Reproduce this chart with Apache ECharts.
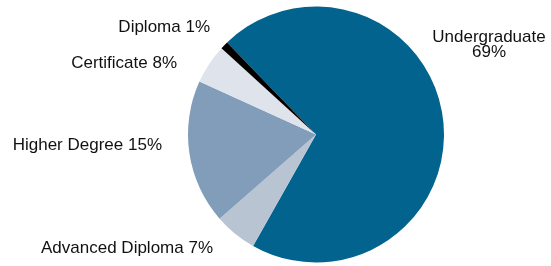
<!DOCTYPE html>
<html>
<head>
<meta charset="utf-8">
<script src="https://cdn.jsdelivr.net/npm/echarts@6/dist/echarts.min.js"></script>
<style>
    html, body { margin: 0; padding: 0; background: #fff; }
    #chart { width: 551px; height: 266px; }
</style>
</head>
<body>
<div id="chart"></div>
<script>
// slices clockwise from the upper-left edge of Undergraduate
var categories = ['Undergraduate', 'Advanced Diploma', 'Higher Degree', 'Certificate', 'Diploma'];
// slice sizes as drawn
var sliceValues = [70.4, 5.4, 18.2, 5.0, 1.0];
// percentages printed in the labels
var labelPct = [69, 7, 15, 8, 1];

var sliceColors = ['#02648e', '#b8c4d2', '#829db9', '#dfe3eb', '#000000'];
// label anchor per slice: x, y, align
var labelSpots = [
    [489, 45, 'center'],
    [213, 248, 'right'],
    [162, 145, 'right'],
    [177, 63, 'right'],
    [210, 27, 'right']
];

var pieApp = {
    chart : null,
    init : function(){
        this.chart = echarts.init(document.getElementById('chart'));
        this.chart.setOption(this.buildOption());
    },
    buildOption : function(){
        var data = [];
        for (var i = 0; i < categories.length; i++) {
            data.push({
                name: categories[i],
                value: sliceValues[i],
                itemStyle: { color: sliceColors[i] }
            });
        }
        return {
            animation: false,
            series: [{
                type: 'pie',
                center: [316, 134.5],
                radius: 128,
                startAngle: 134,
                clockwise: true,
                data: data,
                itemStyle: { borderWidth: 0 },
                labelLine: { show: false },
                label: {
                    show: true,
                    position: 'outside',
                    overflow: 'none',
                    color: '#111',
                    fontFamily: 'Liberation Sans, Arial, sans-serif',
                    fontSize: 17,
                    lineHeight: 15,
                    formatter: function(p){
                        var pct = labelPct[p.dataIndex] + '%';
                        return p.dataIndex === 0 ? p.name + '\n' + pct : p.name + ' ' + pct;
                    }
                },
                labelLayout: function(p){
                    var s = labelSpots[p.dataIndex];
                    return { x: s[0], y: s[1], align: s[2], verticalAlign: 'middle' };
                },
                emphasis: { disabled: true }
            }]
        };
    }
};

pieApp.init();
</script>
</body>
</html>
